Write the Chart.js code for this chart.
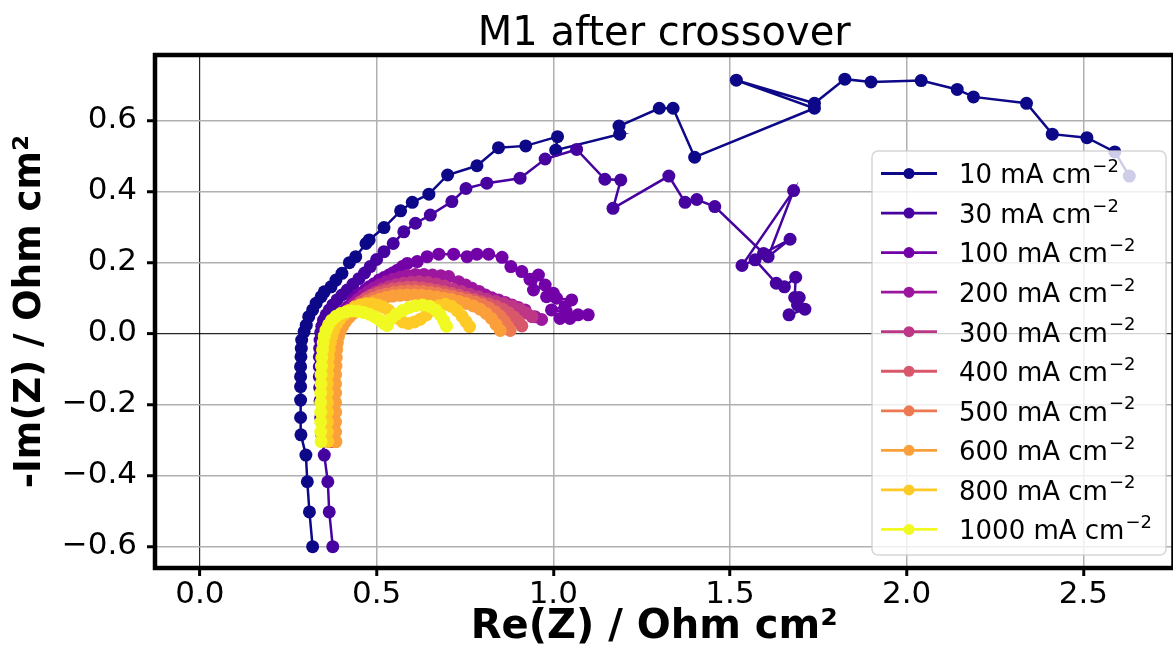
<!DOCTYPE html>
<html><head><meta charset="utf-8">
<script src="https://cdn.jsdelivr.net/npm/chart.js@4.4.1/dist/chart.umd.min.js"></script>
<style>html,body{margin:0;padding:0;background:#fff;overflow:hidden;}#wrap{width:1180px;height:660px;}</style>
</head><body><div id="wrap"><canvas id="c" width="1180" height="660"></canvas></div>
<script>
const chartTitle = 'M1 after crossover';
const xAxisTitle = 'Re(Z) / Ohm cm²\u2002';
const yAxisTitle = '-Im(Z) / Ohm cm²';
const seriesLabels = ['10 mA cm', '30 mA cm', '100 mA cm', '200 mA cm', '300 mA cm', '400 mA cm', '500 mA cm', '600 mA cm', '800 mA cm', '1000 mA cm'];
const seriesSup = '−2';
const seriesColors = ['#0d0887', '#47039f', '#7301a8', '#9c179e', '#bd3786', '#d8576b', '#ed7953', '#fb9f3a', '#fdca26', '#f0f921'];

const re10 = [0.319,0.310,0.304,0.300,0.286,0.285,0.285,0.285,0.285,0.285,0.286,0.287,0.288,0.295,0.301,0.308,0.319,0.329,0.343,0.352,0.371,0.385,0.402,0.423,0.441,0.470,0.479,0.521,0.568,0.601,0.648,0.701,0.784,0.845,0.922,1.012,1.007,1.188,1.186,1.300,1.339,1.400,1.739,1.518,1.739,1.825,1.899,2.041,2.143,2.189,2.339,2.412,2.510,2.589,2.630];
const im10 = [-0.601,-0.503,-0.418,-0.343,-0.286,-0.237,-0.188,-0.150,-0.122,-0.094,-0.066,-0.042,-0.019,0.005,0.023,0.047,0.066,0.085,0.103,0.117,0.131,0.150,0.169,0.199,0.216,0.253,0.263,0.298,0.345,0.369,0.392,0.446,0.472,0.523,0.528,0.554,0.516,0.561,0.584,0.634,0.634,0.496,0.634,0.713,0.648,0.716,0.708,0.712,0.687,0.666,0.648,0.561,0.551,0.511,0.443];

const re30 = [0.376,0.366,0.362,0.352,0.345,0.342,0.340,0.339,0.338,0.338,0.338,0.339,0.340,0.342,0.345,0.350,0.357,0.366,0.376,0.388,0.402,0.417,0.433,0.450,0.466,0.482,0.500,0.521,0.547,0.577,0.610,0.652,0.713,0.753,0.812,0.906,0.977,1.066,1.146,1.191,1.169,1.327,1.373,1.406,1.457,1.595,1.670,1.608,1.680,1.534,1.571,1.631,1.654,1.686,1.683,1.696,1.691,1.712,1.667];
const im30 = [-0.601,-0.503,-0.418,-0.343,-0.286,-0.237,-0.190,-0.153,-0.122,-0.094,-0.066,-0.042,-0.019,0.002,0.020,0.037,0.052,0.066,0.080,0.094,0.108,0.122,0.138,0.154,0.170,0.188,0.208,0.230,0.253,0.286,0.310,0.333,0.371,0.408,0.423,0.437,0.491,0.518,0.434,0.432,0.352,0.443,0.369,0.377,0.357,0.225,0.265,0.216,0.402,0.191,0.207,0.141,0.131,0.158,0.101,0.101,0.080,0.068,0.052];

const re100 = [0.366,0.364,0.363,0.362,0.362,0.362,0.362,0.363,0.364,0.365,0.367,0.370,0.376,0.383,0.390,0.399,0.408,0.419,0.432,0.443,0.455,0.467,0.479,0.493,0.507,0.521,0.535,0.547,0.559,0.573,0.587,0.615,0.643,0.676,0.718,0.756,0.784,0.817,0.855,0.880,0.911,0.934,0.958,0.944,0.977,1.000,0.981,1.009,1.052,1.033,0.995,1.037,1.019,1.047,1.070,1.099];
const im100 = [-0.305,-0.278,-0.250,-0.222,-0.195,-0.168,-0.142,-0.116,-0.092,-0.068,-0.046,-0.024,0.005,0.017,0.035,0.052,0.064,0.075,0.094,0.104,0.113,0.122,0.131,0.140,0.150,0.157,0.164,0.171,0.178,0.188,0.197,0.202,0.216,0.223,0.223,0.216,0.223,0.223,0.214,0.188,0.174,0.152,0.164,0.122,0.136,0.113,0.103,0.099,0.094,0.075,0.066,0.061,0.042,0.042,0.052,0.052];

const re200 = [0.372,0.370,0.369,0.368,0.368,0.368,0.368,0.369,0.370,0.371,0.373,0.376,0.380,0.386,0.393,0.401,0.411,0.422,0.434,0.447,0.461,0.476,0.492,0.509,0.527,0.546,0.566,0.587,0.610,0.634,0.658,0.682,0.704,0.732,0.752,0.770,0.790,0.808,0.826,0.845,0.864,0.883,0.901,0.920,0.948,0.967];
const im200 = [-0.305,-0.278,-0.250,-0.222,-0.195,-0.168,-0.142,-0.116,-0.092,-0.068,-0.046,-0.026,-0.008,0.010,0.026,0.042,0.056,0.070,0.083,0.095,0.107,0.118,0.128,0.137,0.145,0.152,0.158,0.163,0.166,0.166,0.164,0.162,0.160,0.145,0.136,0.127,0.118,0.108,0.100,0.094,0.087,0.080,0.073,0.066,0.047,0.039];

const re300 = [0.376,0.374,0.373,0.372,0.372,0.372,0.372,0.373,0.374,0.375,0.377,0.380,0.384,0.390,0.397,0.406,0.416,0.427,0.439,0.452,0.466,0.481,0.498,0.516,0.535,0.555,0.576,0.598,0.621,0.645,0.669,0.692,0.716,0.740,0.764,0.788,0.812,0.836,0.860,0.884,0.905,0.924,0.940];
const im300 = [-0.305,-0.278,-0.250,-0.222,-0.195,-0.168,-0.142,-0.116,-0.092,-0.068,-0.046,-0.026,-0.008,0.008,0.024,0.038,0.051,0.064,0.076,0.087,0.097,0.107,0.116,0.124,0.131,0.137,0.141,0.144,0.145,0.143,0.139,0.133,0.125,0.118,0.110,0.103,0.096,0.090,0.084,0.077,0.068,0.057,0.047];

const re400 = [0.380,0.379,0.378,0.378,0.378,0.378,0.378,0.378,0.379,0.380,0.381,0.383,0.386,0.391,0.398,0.407,0.417,0.429,0.442,0.456,0.471,0.488,0.506,0.525,0.545,0.566,0.587,0.608,0.629,0.650,0.671,0.692,0.713,0.734,0.755,0.776,0.797,0.818,0.838,0.857,0.874,0.889,0.901,0.911];
const im400 = [-0.305,-0.278,-0.250,-0.222,-0.195,-0.168,-0.142,-0.116,-0.092,-0.068,-0.046,-0.026,-0.008,0.008,0.024,0.039,0.053,0.066,0.078,0.089,0.099,0.107,0.114,0.120,0.125,0.128,0.130,0.130,0.128,0.125,0.121,0.117,0.112,0.107,0.101,0.095,0.089,0.083,0.076,0.068,0.058,0.046,0.034,0.021];

const re500 = [0.383,0.382,0.381,0.381,0.381,0.381,0.381,0.381,0.382,0.383,0.384,0.386,0.389,0.394,0.401,0.410,0.420,0.432,0.445,0.459,0.474,0.491,0.509,0.528,0.548,0.569,0.590,0.611,0.632,0.653,0.674,0.695,0.716,0.737,0.758,0.779,0.799,0.818,0.835,0.850,0.862,0.871,0.878];
const im500 = [-0.305,-0.278,-0.250,-0.222,-0.195,-0.168,-0.142,-0.116,-0.092,-0.068,-0.046,-0.026,-0.008,0.007,0.022,0.036,0.049,0.061,0.072,0.082,0.091,0.099,0.106,0.111,0.115,0.118,0.119,0.119,0.118,0.115,0.112,0.108,0.104,0.099,0.094,0.088,0.081,0.072,0.061,0.048,0.034,0.020,0.008];

const re600 = [0.385,0.384,0.384,0.384,0.384,0.384,0.384,0.384,0.385,0.386,0.387,0.389,0.392,0.397,0.404,0.412,0.422,0.434,0.447,0.461,0.476,0.492,0.509,0.527,0.546,0.566,0.586,0.607,0.628,0.649,0.670,0.691,0.712,0.733,0.754,0.774,0.793,0.810,0.825,0.838,0.850];
const im600 = [-0.305,-0.278,-0.250,-0.222,-0.195,-0.168,-0.142,-0.116,-0.092,-0.068,-0.046,-0.026,-0.009,0.006,0.020,0.033,0.045,0.056,0.066,0.075,0.083,0.090,0.096,0.101,0.105,0.107,0.108,0.108,0.107,0.105,0.102,0.099,0.095,0.090,0.084,0.077,0.068,0.056,0.042,0.025,0.008];

const re800 = [0.362,0.361,0.361,0.361,0.361,0.361,0.361,0.362,0.363,0.364,0.366,0.369,0.373,0.379,0.387,0.397,0.409,0.423,0.438,0.454,0.470,0.487,0.503,0.519,0.534,0.548,0.561,0.574,0.590,0.607,0.624,0.641,0.658,0.676,0.695,0.712,0.728,0.742,0.753,0.763];
const im800 = [-0.305,-0.278,-0.250,-0.222,-0.195,-0.168,-0.142,-0.116,-0.092,-0.068,-0.046,-0.026,-0.008,0.010,0.026,0.041,0.054,0.065,0.074,0.080,0.083,0.083,0.080,0.074,0.065,0.054,0.042,0.032,0.028,0.032,0.040,0.052,0.066,0.078,0.082,0.076,0.064,0.048,0.033,0.019];

const re1000 = [0.343,0.342,0.342,0.342,0.342,0.342,0.343,0.343,0.344,0.345,0.347,0.349,0.352,0.357,0.364,0.373,0.385,0.399,0.414,0.430,0.447,0.463,0.479,0.494,0.508,0.520,0.530,0.540,0.556,0.573,0.591,0.610,0.630,0.650,0.667,0.680,0.690,0.698];
const im1000 = [-0.305,-0.278,-0.250,-0.222,-0.195,-0.168,-0.142,-0.116,-0.092,-0.068,-0.046,-0.026,-0.008,0.009,0.024,0.037,0.048,0.056,0.061,0.063,0.062,0.059,0.054,0.047,0.038,0.028,0.022,0.040,0.054,0.064,0.072,0.078,0.080,0.076,0.066,0.052,0.036,0.020];

const xTickValues = [0, 0.5, 1.0, 1.5, 2.0, 2.5];
const xTickLabels = ['0.0', '0.5', '1.0', '1.5', '2.0', '2.5'];
const yTickValues = [-0.6, -0.4, -0.2, 0, 0.2, 0.4, 0.6];
const yTickLabels = ['−0.6', '−0.4', '−0.2', '0.0', '0.2', '0.4', '0.6'];

const allRe = [re10, re30, re100, re200, re300, re400, re500, re600, re800, re1000];
const allIm = [im10, im30, im100, im200, im300, im400, im500, im600, im800, im1000];

const FONT = 'DejaVu Sans';
const n = seriesLabels.length;
const datasets = allRe.map((re, k) => ({
  label: seriesLabels[k],
  data: re.map((x, i) => ({x: x, y: allIm[k][i]})),
  showLine: true,
  borderColor: seriesColors[k],
  backgroundColor: seriesColors[k],
  pointBackgroundColor: seriesColors[k],
  pointBorderColor: seriesColors[k],
  borderWidth: 2.5,
  pointRadius: 6.5,
  pointBorderWidth: 0,
  pointHoverRadius: 6.5,
  order: n - 1 - k,
  tension: 0
}));

const spines = {
  id: 'spines',
  afterDatasetsDraw(chart) {
    const {ctx, chartArea: a} = chart;
    ctx.save();
    ctx.strokeStyle = '#000';
    ctx.lineWidth = 4.5;
    ctx.strokeRect(a.left, a.top, a.right - a.left, a.bottom - a.top);
    ctx.restore();
  }
};

const mplLegend = {
  id: 'mplLegend',
  afterDraw(chart) {
    const ctx = chart.ctx;
    ctx.save();
    const bx = 872, by = 151, bw = 294, bh = 404, r = 6;
    ctx.beginPath();
    ctx.moveTo(bx + r, by);
    ctx.lineTo(bx + bw - r, by);
    ctx.arcTo(bx + bw, by, bx + bw, by + r, r);
    ctx.lineTo(bx + bw, by + bh - r);
    ctx.arcTo(bx + bw, by + bh, bx + bw - r, by + bh, r);
    ctx.lineTo(bx + r, by + bh);
    ctx.arcTo(bx, by + bh, bx, by + bh - r, r);
    ctx.lineTo(bx, by + r);
    ctx.arcTo(bx, by, bx + r, by, r);
    ctx.closePath();
    ctx.fillStyle = 'rgba(255,255,255,0.8)';
    ctx.fill();
    ctx.strokeStyle = 'rgba(204,204,204,0.8)';
    ctx.lineWidth = 1.5;
    ctx.stroke();
    chart.data.datasets.forEach((ds, i) => {
      const y = 173.5 + i * 39.55;
      ctx.strokeStyle = ds.borderColor;
      ctx.lineWidth = 2.8;
      ctx.beginPath(); ctx.moveTo(881, y); ctx.lineTo(937, y); ctx.stroke();
      ctx.fillStyle = ds.borderColor;
      ctx.beginPath(); ctx.arc(909, y, 5.5, 0, Math.PI * 2); ctx.fill();
      ctx.fillStyle = '#000';
      ctx.textAlign = 'left';
      ctx.textBaseline = 'alphabetic';
      ctx.font = '26px "' + FONT + '"';
      ctx.fillText(ds.label, 959, y + 9.8);
      const w = ctx.measureText(ds.label).width;
      ctx.font = '18px "' + FONT + '"';
      ctx.fillText(seriesSup, 959 + w + 1, y - 1.5);
    });
    ctx.restore();
  }
};

new Chart(document.getElementById('c'), {
  type: 'scatter',
  data: {datasets: datasets},
  plugins: [spines, mplLegend],
  options: {
    responsive: false,
    animation: false,
    devicePixelRatio: 1,
    layout: {padding: {left: 0, right: 2, top: 0, bottom: 0}},
    plugins: {
      legend: {display: false},
      tooltip: {enabled: false},
      title: {
        display: true, text: chartTitle, fullSize: false, color: '#000',
        font: {family: FONT, size: 40, weight: 'normal', lineHeight: 1.0},
        padding: {top: 15, bottom: 0}
      }
    },
    scales: {
      x: {
        type: 'linear', min: -0.127, max: 2.755,
        afterBuildTicks: s => { s.ticks = xTickValues.map(v => ({value: v})); },
        afterFit: s => { s.height = 92; },
        ticks: {
          callback: (v, i) => xTickLabels[i], color: '#000', padding: 0,
          font: {family: FONT, size: 31}, maxRotation: 0, autoSkip: false
        },
        grid: {
          color: c => (c.tick && c.tick.value === 0) ? 'rgba(0,0,0,0.85)' : '#b0b0b0',
          lineWidth: c => (c.tick && c.tick.value === 0) ? 1.2 : 1.5,
          tickColor: '#000', tickWidth: 3, tickLength: 8, drawTicks: true
        },
        border: {display: false},
        title: {
          display: true, text: xAxisTitle, color: '#000',
          font: {family: FONT, size: 40, weight: 'bold', lineHeight: 1.2},
          padding: {top: 0, bottom: 8}
        }
      },
      y: {
        type: 'linear', min: -0.661, max: 0.784,
        afterBuildTicks: s => { s.ticks = yTickValues.map(v => ({value: v})); },
        afterFit: s => { s.width = 155; },
        ticks: {
          callback: (v, i) => yTickLabels[i], color: '#000', padding: 10,
          font: {family: FONT, size: 31}
        },
        grid: {
          color: c => (c.tick && c.tick.value === 0) ? 'rgba(0,0,0,0.85)' : '#b0b0b0',
          lineWidth: c => (c.tick && c.tick.value === 0) ? 1.2 : 1.5,
          tickColor: '#000', tickWidth: 3, tickLength: 8, drawTicks: true
        },
        border: {display: false},
        title: {
          display: true, text: yAxisTitle, color: '#000',
          font: {family: FONT, size: 37, weight: 'bold', lineHeight: 1.2},
          padding: {top: 8, bottom: 0}
        }
      }
    }
  }
});
</script>
</body></html>
